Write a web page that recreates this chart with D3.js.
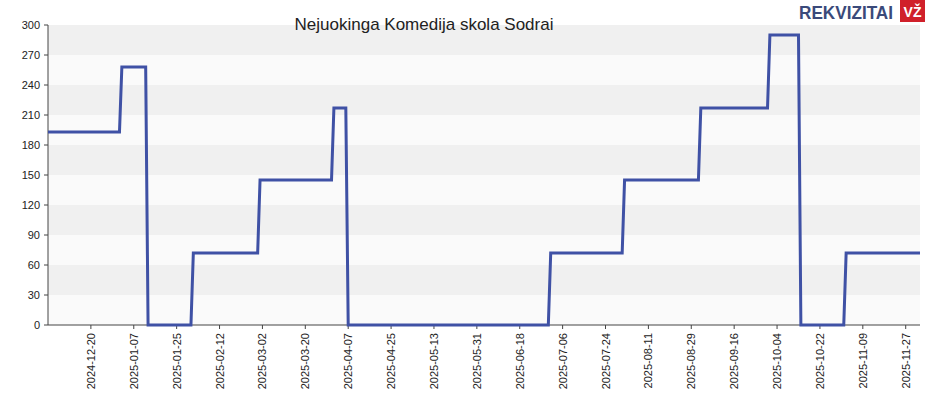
<!DOCTYPE html>
<html><head><meta charset="utf-8">
<script src="https://cdn.jsdelivr.net/npm/d3@7"></script>
<style>body{margin:0;background:#fff}svg{font-family:Arial,"Liberation Sans",sans-serif}</style>
</head><body><svg id="c" width="930" height="400"></svg>
<script>
const title = "Nejuokinga Komedija skola Sodrai";
const dates = ["2024-12-02","2025-01-01","2025-01-02","2025-01-12","2025-01-13","2025-01-31","2025-02-01","2025-02-28","2025-03-01","2025-03-31","2025-04-01","2025-04-06","2025-04-07","2025-06-30","2025-07-01","2025-07-31","2025-08-01","2025-09-01","2025-09-02","2025-09-30","2025-10-01","2025-10-13","2025-10-14","2025-11-01","2025-11-02","2025-12-03"];
const values = [193,193,258,258,0,0,72,72,145,145,217,217,0,0,72,72,145,145,217,217,290,290,0,0,72,72];
const yTicks = [0,30,60,90,120,150,180,210,240,270,300];
const xTicks = ["2024-12-20","2025-01-07","2025-01-25","2025-02-12","2025-03-02","2025-03-20","2025-04-07","2025-04-25","2025-05-13","2025-05-31","2025-06-18","2025-07-06","2025-07-24","2025-08-11","2025-08-29","2025-09-16","2025-10-04","2025-10-22","2025-11-09","2025-11-27"];
const p = d3.utcParse("%Y-%m-%d");
const svg = d3.select("#c");
const L=48,R=920,T=25,B=325;
const x = d3.scaleUtc().domain([p("2024-12-02"),p("2025-12-03")]).range([L,R]);
const y = d3.scaleLinear().domain([0,300]).range([B,T]);
for(let i=0;i<yTicks.length-1;i++){
  svg.append("rect").attr("x",L).attr("width",R-L).attr("y",y(yTicks[i+1])).attr("height",y(yTicks[i])-y(yTicks[i+1]))
   .attr("fill", i%2===1 ? "#f0f0f0" : "#fafafa");
}
svg.append("line").attr("x1",L).attr("x2",L).attr("y1",T).attr("y2",B).attr("stroke","#444");
svg.append("line").attr("x1",L).attr("x2",R).attr("y1",B).attr("y2",B).attr("stroke","#444");
yTicks.forEach(v=>{
  svg.append("line").attr("x1",L-4).attr("x2",L).attr("y1",y(v)).attr("y2",y(v)).attr("stroke","#444");
  svg.append("text").attr("x",L-8).attr("y",y(v)+4).attr("text-anchor","end").attr("font-size",11).attr("fill","#222").text(v);
});
xTicks.forEach(s=>{
  const xx=x(p(s));
  svg.append("line").attr("x1",xx).attr("x2",xx).attr("y1",B).attr("y2",B+4).attr("stroke","#444");
  svg.append("text").attr("transform",`translate(${xx+4},${B+8}) rotate(-90)`).attr("text-anchor","end").attr("font-size",11).attr("fill","#222").text(s);
});
const pts = dates.map((d,i)=>[p(d),values[i]]);
svg.append("path").datum(pts).attr("fill","none").attr("stroke","#3f51a5").attr("stroke-width",3)
 .attr("d",d3.line().x(d=>x(d[0])).y(d=>y(d[1])));
svg.append("text").attr("x",424).attr("y",30).attr("text-anchor","middle").attr("font-size",17).attr("fill","#222").text(title);
svg.append("text").attr("x",799).attr("y",19).attr("font-size",19).attr("font-weight","bold").attr("fill","#3a4a7a").attr("textLength",94).attr("lengthAdjust","spacingAndGlyphs").text("REKVIZITAI");
svg.append("rect").attr("x",900).attr("y",0).attr("width",25).attr("height",22).attr("fill","#d0202a");
svg.append("text").attr("x",912.5).attr("y",17).attr("text-anchor","middle").attr("font-size",14).attr("font-weight","bold").attr("fill","#fff").text("VŽ");
</script></body></html>
